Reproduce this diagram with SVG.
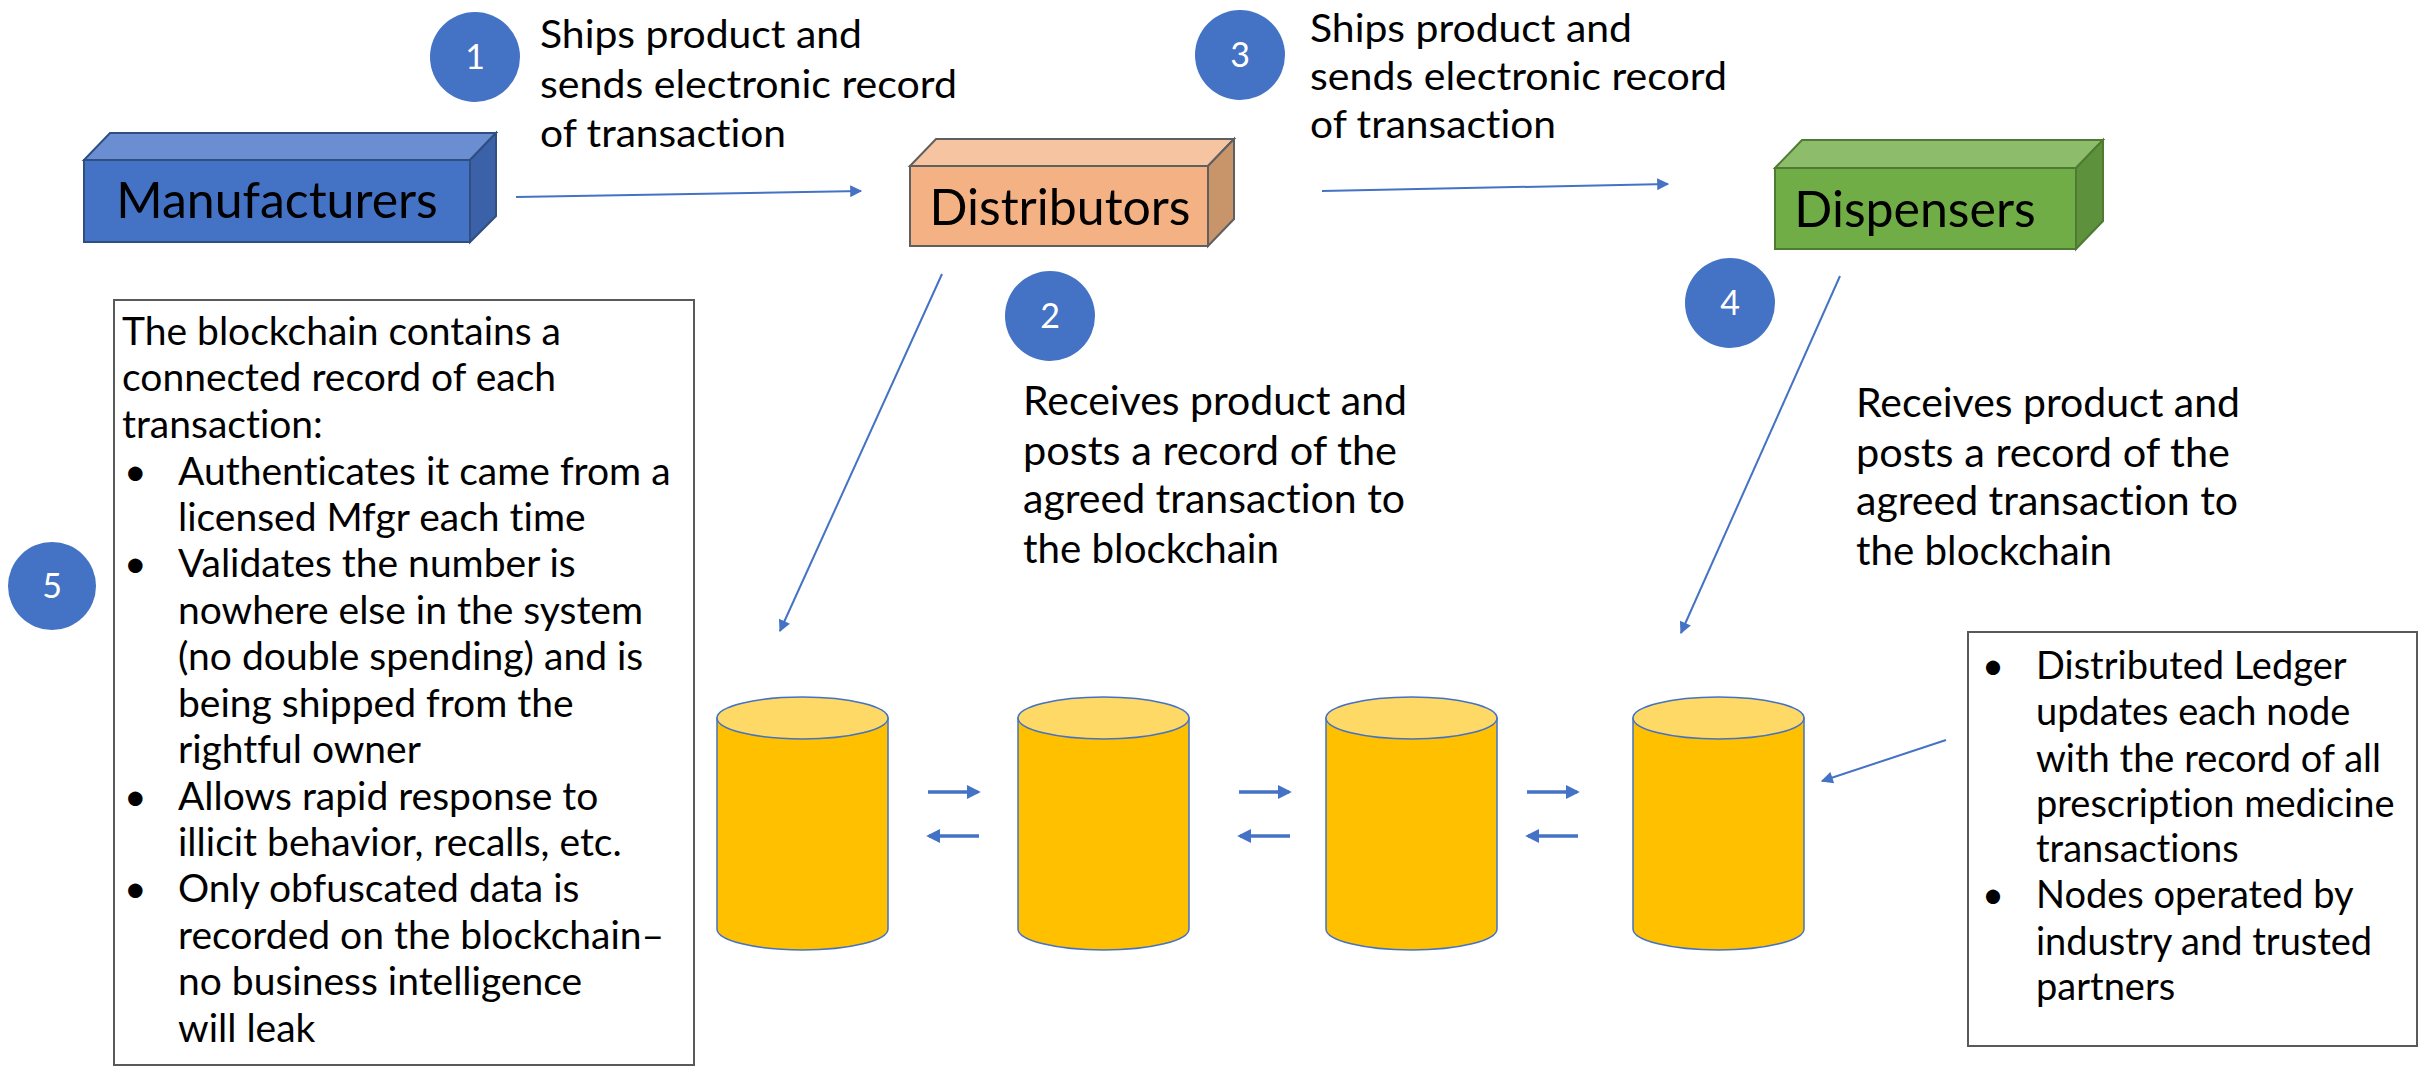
<svg xmlns="http://www.w3.org/2000/svg" width="2430" height="1067" viewBox="0 0 2430 1067">
<style>
  text { font-family: Lato, "Open Sans", "Liberation Sans", sans-serif; fill: #000; font-variant-ligatures: none; font-feature-settings: "liga" 0, "clig" 0; }
  .lbl { font-size: 38px; }
  .lbl2 { font-size: 40px; }
  .box { font-size: 50px; text-anchor: middle; }
  .num { font-size: 34px; fill: #fff; text-anchor: middle; }
  .note { font-size: 39px; }
  .note2 { font-size: 38px; }
  .conn { stroke: #4472C4; stroke-width: 2; fill: none; }
  .conn2 { stroke: #4472C4; stroke-width: 3.5; fill: none; }
  .badge { fill: #4472C4; }
  .frame { fill: #fff; stroke: #595959; stroke-width: 2; }
  .cylbody { fill: #FFC000; stroke: #4472C4; stroke-width: 1.5; }
  .cyltop { fill: #FFD966; stroke: #4472C4; stroke-width: 1.5; }
</style>
<defs>
  <marker id="ah" viewBox="0 0 10 10" refX="9" refY="5" markerWidth="14" markerHeight="12" markerUnits="userSpaceOnUse" orient="auto">
    <path d="M0,0 L10,5 L0,10 z" fill="#4472C4"/>
  </marker>
  <marker id="ah2" viewBox="0 0 10 10" refX="8" refY="5" markerWidth="14" markerHeight="18" markerUnits="userSpaceOnUse" orient="auto">
    <path d="M0,0 L10,5 L0,10 z" fill="#4472C4"/>
  </marker>
  <g id="cyl">
    <path class="cylbody" d="M0,0 L0,211 A85.5,21 0 0 0 171,211 L171,0 Z"/>
    <ellipse class="cyltop" cx="85.5" cy="0" rx="85.5" ry="21"/>
  </g>
</defs>
<rect width="2430" height="1067" fill="#fff"/>

<g id="manufacturers">
  <polygon points="84,160 110,133 496,133 470,160" fill="#6B8ED2" stroke="#2F4F80" stroke-width="2"/>
  <polygon points="470,160 496,133 496,216 470,242" fill="#3B62A8" stroke="#2F4F80" stroke-width="2"/>
  <rect x="84" y="160" width="386" height="82" fill="#4472C4" stroke="#2F4F80" stroke-width="2"/>
  <text class="box" x="277" y="218">Manufacturers</text>
</g>

<g id="distributors">
  <polygon points="910,166 936,139 1234,139 1208,166" fill="#F6C4A0" stroke="#5F5F5F" stroke-width="2"/>
  <polygon points="1208,166 1234,139 1234,219 1208,246" fill="#C8956B" stroke="#5F5F5F" stroke-width="2"/>
  <rect x="910" y="166" width="298" height="80" fill="#F4B183" stroke="#5F5F5F" stroke-width="2"/>
  <text class="box" x="1060" y="225">Distributors</text>
</g>

<g id="dispensers">
  <polygon points="1775,168 1802,140 2103,140 2076,168" fill="#8DBC6B" stroke="#4F7A33" stroke-width="2"/>
  <polygon points="2076,168 2103,140 2103,221 2076,249" fill="#5D913B" stroke="#4F7A33" stroke-width="2"/>
  <rect x="1775" y="168" width="301" height="81" fill="#70AD47" stroke="#4F7A33" stroke-width="2"/>
  <text class="box" x="1915" y="227">Dispensers</text>
</g>

<g id="step1">
  <circle class="badge" cx="475" cy="57" r="45"/>
  <text class="num" x="475" y="69">1</text>
  <text class="lbl" x="540" y="48" textLength="322" lengthAdjust="spacingAndGlyphs">Ships product and</text>
  <text class="lbl" x="540" y="98" textLength="417" lengthAdjust="spacingAndGlyphs">sends electronic record</text>
  <text class="lbl" x="540" y="147" textLength="246" lengthAdjust="spacingAndGlyphs">of transaction</text>
</g>

<g id="step2">
  <circle class="badge" cx="1050" cy="316" r="45"/>
  <text class="num" x="1050" y="328">2</text>
  <text class="lbl2" x="1023" y="415" textLength="384" lengthAdjust="spacingAndGlyphs">Receives product and</text>
  <text class="lbl2" x="1023" y="465" textLength="374" lengthAdjust="spacingAndGlyphs">posts a record of the</text>
  <text class="lbl2" x="1023" y="513" textLength="382" lengthAdjust="spacingAndGlyphs">agreed transaction to</text>
  <text class="lbl2" x="1023" y="563" textLength="256" lengthAdjust="spacingAndGlyphs">the blockchain</text>
</g>

<g id="step3">
  <circle class="badge" cx="1240" cy="55" r="45"/>
  <text class="num" x="1240" y="67">3</text>
  <text class="lbl" x="1310" y="42" textLength="322" lengthAdjust="spacingAndGlyphs">Ships product and</text>
  <text class="lbl" x="1310" y="90" textLength="417" lengthAdjust="spacingAndGlyphs">sends electronic record</text>
  <text class="lbl" x="1310" y="138" textLength="246" lengthAdjust="spacingAndGlyphs">of transaction</text>
</g>

<g id="step4">
  <circle class="badge" cx="1730" cy="303" r="45"/>
  <text class="num" x="1730" y="315">4</text>
  <text class="lbl2" x="1856" y="417" textLength="384" lengthAdjust="spacingAndGlyphs">Receives product and</text>
  <text class="lbl2" x="1856" y="467" textLength="374" lengthAdjust="spacingAndGlyphs">posts a record of the</text>
  <text class="lbl2" x="1856" y="515" textLength="382" lengthAdjust="spacingAndGlyphs">agreed transaction to</text>
  <text class="lbl2" x="1856" y="565" textLength="256" lengthAdjust="spacingAndGlyphs">the blockchain</text>
</g>

<g id="step5">
  <circle class="badge" cx="52" cy="586" r="44"/>
  <text class="num" x="52" y="598">5</text>
</g>

<g id="blockchain-note">
  <rect class="frame" x="114" y="300" width="580" height="765"/>
  <text class="note" x="122" y="345">The blockchain contains a</text>
  <text class="note" x="122" y="391">connected record of each</text>
  <text class="note" x="122" y="438">transaction:</text>
  <text class="note" x="124" y="485">•</text>
  <text class="note" x="178" y="485">Authenticates it came from a</text>
  <text class="note" x="178" y="531">licensed Mfgr each time</text>
  <text class="note" x="124" y="577">•</text>
  <text class="note" x="178" y="577">Validates the number is</text>
  <text class="note" x="178" y="624">nowhere else in the system</text>
  <text class="note" x="178" y="670">(no double spending) and is</text>
  <text class="note" x="178" y="717">being shipped from the</text>
  <text class="note" x="178" y="763">rightful owner</text>
  <text class="note" x="124" y="810">•</text>
  <text class="note" x="178" y="810">Allows rapid response to</text>
  <text class="note" x="178" y="856">illicit behavior, recalls, etc.</text>
  <text class="note" x="124" y="902">•</text>
  <text class="note" x="178" y="902">Only obfuscated data is</text>
  <text class="note" x="178" y="949">recorded on the blockchain–</text>
  <text class="note" x="178" y="995">no business intelligence</text>
  <text class="note" x="178" y="1042">will leak</text>
</g>

<g id="ledger-note">
  <rect class="frame" x="1968" y="632" width="449" height="414"/>
  <text class="note2" x="1982" y="679">•</text>
  <text class="note2" x="2036" y="679">Distributed Ledger</text>
  <text class="note2" x="2036" y="725">updates each node</text>
  <text class="note2" x="2036" y="772">with the record of all</text>
  <text class="note2" x="2036" y="817">prescription medicine</text>
  <text class="note2" x="2036" y="862">transactions</text>
  <text class="note2" x="1982" y="908">•</text>
  <text class="note2" x="2036" y="908">Nodes operated by</text>
  <text class="note2" x="2036" y="955">industry and trusted</text>
  <text class="note2" x="2036" y="1000">partners</text>
</g>

<g id="node1"><use href="#cyl" x="717" y="718"/></g>
<g id="node2"><use href="#cyl" x="1018" y="718"/></g>
<g id="node3"><use href="#cyl" x="1326" y="718"/></g>
<g id="node4"><use href="#cyl" x="1633" y="718"/></g>

<g id="connectors">
  <line class="conn" x1="516" y1="197" x2="861" y2="191" marker-end="url(#ah)"/>
  <line class="conn" x1="1322" y1="191" x2="1668" y2="184" marker-end="url(#ah)"/>
  <line class="conn" x1="942" y1="274" x2="780" y2="631" marker-end="url(#ah)"/>
  <line class="conn" x1="1840" y1="276" x2="1681" y2="633" marker-end="url(#ah)"/>
  <line class="conn" x1="1946" y1="740" x2="1822" y2="781" marker-end="url(#ah)"/>
  <line class="conn2" x1="928" y1="792" x2="978" y2="792" marker-end="url(#ah2)"/>
  <line class="conn2" x1="979" y1="836" x2="929" y2="836" marker-end="url(#ah2)"/>
  <line class="conn2" x1="1239" y1="792" x2="1289" y2="792" marker-end="url(#ah2)"/>
  <line class="conn2" x1="1290" y1="836" x2="1240" y2="836" marker-end="url(#ah2)"/>
  <line class="conn2" x1="1527" y1="792" x2="1577" y2="792" marker-end="url(#ah2)"/>
  <line class="conn2" x1="1578" y1="836" x2="1528" y2="836" marker-end="url(#ah2)"/>
</g>
</svg>
